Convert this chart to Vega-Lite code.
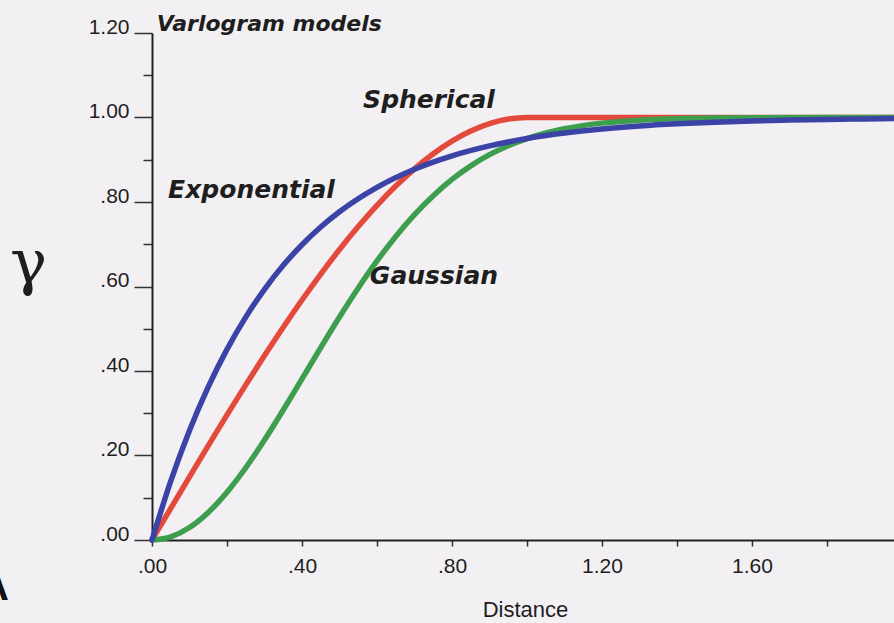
{
  "$schema": "https://vega.github.io/schema/vega-lite/v6.json",
  "autosize": "none",
  "width": 742,
  "height": 507,
  "padding": {"left": 152, "top": 33, "right": 0, "bottom": 83},
  "background": "#f3f0f3",
  "config": {"view": {"stroke": null}},
  "datasets": {
    "curves": [
      {"model": "Spherical", "d": 0, "g": 0},
      {"model": "Spherical", "d": 0.05, "g": 0.0749},
      {"model": "Spherical", "d": 0.1, "g": 0.1495},
      {"model": "Spherical", "d": 0.15, "g": 0.2233},
      {"model": "Spherical", "d": 0.2, "g": 0.296},
      {"model": "Spherical", "d": 0.25, "g": 0.3672},
      {"model": "Spherical", "d": 0.3, "g": 0.4365},
      {"model": "Spherical", "d": 0.35, "g": 0.5036},
      {"model": "Spherical", "d": 0.4, "g": 0.568},
      {"model": "Spherical", "d": 0.45, "g": 0.6294},
      {"model": "Spherical", "d": 0.5, "g": 0.6875},
      {"model": "Spherical", "d": 0.55, "g": 0.7418},
      {"model": "Spherical", "d": 0.6, "g": 0.792},
      {"model": "Spherical", "d": 0.65, "g": 0.8377},
      {"model": "Spherical", "d": 0.7, "g": 0.8785},
      {"model": "Spherical", "d": 0.75, "g": 0.9141},
      {"model": "Spherical", "d": 0.8, "g": 0.944},
      {"model": "Spherical", "d": 0.85, "g": 0.9679},
      {"model": "Spherical", "d": 0.9, "g": 0.9855},
      {"model": "Spherical", "d": 0.95, "g": 0.9963},
      {"model": "Spherical", "d": 1.0, "g": 1.0},
      {"model": "Spherical", "d": 1.2, "g": 1.0},
      {"model": "Spherical", "d": 1.6, "g": 1.0},
      {"model": "Spherical", "d": 1.98, "g": 1.0},
      {"model": "Gaussian", "d": 0, "g": 0},
      {"model": "Gaussian", "d": 0.05, "g": 0.0075},
      {"model": "Gaussian", "d": 0.1, "g": 0.0296},
      {"model": "Gaussian", "d": 0.15, "g": 0.0653},
      {"model": "Gaussian", "d": 0.2, "g": 0.1131},
      {"model": "Gaussian", "d": 0.25, "g": 0.171},
      {"model": "Gaussian", "d": 0.3, "g": 0.2366},
      {"model": "Gaussian", "d": 0.35, "g": 0.3076},
      {"model": "Gaussian", "d": 0.4, "g": 0.3812},
      {"model": "Gaussian", "d": 0.45, "g": 0.4553},
      {"model": "Gaussian", "d": 0.5, "g": 0.5276},
      {"model": "Gaussian", "d": 0.55, "g": 0.5964},
      {"model": "Gaussian", "d": 0.6, "g": 0.6604},
      {"model": "Gaussian", "d": 0.65, "g": 0.7185},
      {"model": "Gaussian", "d": 0.7, "g": 0.7701},
      {"model": "Gaussian", "d": 0.75, "g": 0.815},
      {"model": "Gaussian", "d": 0.8, "g": 0.8534},
      {"model": "Gaussian", "d": 0.85, "g": 0.8855},
      {"model": "Gaussian", "d": 0.9, "g": 0.912},
      {"model": "Gaussian", "d": 0.95, "g": 0.9333},
      {"model": "Gaussian", "d": 1.0, "g": 0.9502},
      {"model": "Gaussian", "d": 1.1, "g": 0.9735},
      {"model": "Gaussian", "d": 1.2, "g": 0.9867},
      {"model": "Gaussian", "d": 1.3, "g": 0.9937},
      {"model": "Gaussian", "d": 1.4, "g": 0.9972},
      {"model": "Gaussian", "d": 1.5, "g": 0.9988},
      {"model": "Gaussian", "d": 1.6, "g": 0.9995},
      {"model": "Gaussian", "d": 1.8, "g": 0.9999},
      {"model": "Gaussian", "d": 1.98, "g": 1.0},
      {"model": "Exponential", "d": 0, "g": 0},
      {"model": "Exponential", "d": 0.05, "g": 0.1393},
      {"model": "Exponential", "d": 0.1, "g": 0.2592},
      {"model": "Exponential", "d": 0.15, "g": 0.3624},
      {"model": "Exponential", "d": 0.2, "g": 0.4512},
      {"model": "Exponential", "d": 0.25, "g": 0.5276},
      {"model": "Exponential", "d": 0.3, "g": 0.5934},
      {"model": "Exponential", "d": 0.35, "g": 0.6501},
      {"model": "Exponential", "d": 0.4, "g": 0.6988},
      {"model": "Exponential", "d": 0.45, "g": 0.7408},
      {"model": "Exponential", "d": 0.5, "g": 0.7769},
      {"model": "Exponential", "d": 0.6, "g": 0.8347},
      {"model": "Exponential", "d": 0.7, "g": 0.8775},
      {"model": "Exponential", "d": 0.8, "g": 0.9093},
      {"model": "Exponential", "d": 0.9, "g": 0.9328},
      {"model": "Exponential", "d": 1.0, "g": 0.9502},
      {"model": "Exponential", "d": 1.1, "g": 0.9631},
      {"model": "Exponential", "d": 1.2, "g": 0.9727},
      {"model": "Exponential", "d": 1.3, "g": 0.9798},
      {"model": "Exponential", "d": 1.4, "g": 0.985},
      {"model": "Exponential", "d": 1.5, "g": 0.9889},
      {"model": "Exponential", "d": 1.6, "g": 0.9918},
      {"model": "Exponential", "d": 1.7, "g": 0.9939},
      {"model": "Exponential", "d": 1.8, "g": 0.9955},
      {"model": "Exponential", "d": 1.9, "g": 0.9967},
      {"model": "Exponential", "d": 1.98, "g": 0.9974}
    ],
    "notes": [
      {"label": "Varlogram models", "d": 0.013, "g": 1.205, "size": 22},
      {"label": "Spherical", "d": 0.563, "g": 1.022, "size": 25},
      {"label": "Exponential", "d": 0.043, "g": 0.81, "size": 25},
      {"label": "Gaussian", "d": 0.581, "g": 0.606, "size": 25}
    ],
    "corner": [
      {"label": "A", "d": -0.42, "g": -0.142}
    ]
  },
  "layer": [
    {
      "data": {"name": "curves"},
      "transform": [{"filter": "datum.model === 'Spherical'"}],
      "mark": {"type": "line", "color": "#e44a3c", "strokeWidth": 5.5, "interpolate": "monotone", "strokeCap": "round"},
      "encoding": {
        "x": {
          "field": "d", "type": "quantitative",
          "scale": {"domain": [0, 1.9787], "nice": false, "zero": false},
          "axis": {
            "title": "Distance",
            "values": [0, 0.1, 0.2, 0.3, 0.4, 0.5, 0.6, 0.7, 0.8, 0.9, 1.0, 1.1, 1.2, 1.3, 1.4, 1.5, 1.6, 1.7, 1.8, 1.9],
            "labelExpr": "abs(datum.value*2.5 - round(datum.value*2.5)) < 0.001 ? (datum.value < 1 ? replace(format(datum.value, '.2f'), '0.', '.') : format(datum.value, '.2f')) : ''",
            "grid": false,
            "domainColor": "#222",
            "domainWidth": 2,
            "tickColor": "#333",
            "tickWidth": 1.5,
            "tickSize": 6,
            "labelFont": "Liberation Sans",
            "labelFontSize": 21,
            "labelColor": "#1e1e1e",
            "labelPadding": 9,
            "labelFlush": false,
            "labelOverlap": false,
            "titleFont": "Liberation Sans",
            "titleFontSize": 22,
            "titleFontWeight": "normal",
            "titleColor": "#1e1e1e",
            "titleX": 373,
            "titleY": 76,
            "titleBaseline": "alphabetic",
            "titleAnchor": "middle",
            "titleAlign": "center"
          }
        },
        "y": {
          "field": "g", "type": "quantitative",
          "scale": {"domain": [0, 1.2], "nice": false, "zero": false},
          "axis": {
            "title": "γ",
            "values": [0, 0.05, 0.1, 0.15, 0.2, 0.25, 0.3, 0.35, 0.4, 0.45, 0.5, 0.55, 0.6, 0.65, 0.7, 0.75, 0.8, 0.85, 0.9, 0.95, 1.0, 1.05, 1.1, 1.15, 1.2],
            "labelExpr": "abs(datum.value*5 - round(datum.value*5)) < 0.001 ? (datum.value < 1 ? replace(format(datum.value, '.2f'), '0.', '.') : format(datum.value, '.2f')) : ''",
            "grid": false,
            "domainColor": "#222",
            "domainWidth": 2,
            "tickColor": "#333",
            "tickWidth": 1.5,
            "tickSize": {"condition": {"test": "abs(datum.value*5 - round(datum.value*5)) < 0.001", "value": 18}, "value": 9},
            "labelFont": "Liberation Sans",
            "labelFontSize": 21,
            "labelColor": "#1e1e1e",
            "labelPadding": 5,
            "labelBaseline": "alphabetic",
            "labelFlush": false,
            "labelOverlap": false,
            "titleFont": "DejaVu Serif",
            "titleFontSize": 62,
            "titleFontWeight": "normal",
            "titleColor": "#1e1e1e",
            "titleAngle": 0,
            "titleX": -124,
            "titleY": 249,
            "titleAlign": "center",
            "titleBaseline": "alphabetic"
          }
        }
      }
    },
    {
      "data": {"name": "curves"},
      "transform": [{"filter": "datum.model === 'Gaussian'"}],
      "mark": {"type": "line", "color": "#3d9e4e", "strokeWidth": 5.5, "interpolate": "monotone", "strokeCap": "round"},
      "encoding": {
        "x": {"field": "d", "type": "quantitative"},
        "y": {"field": "g", "type": "quantitative"}
      }
    },
    {
      "data": {"name": "curves"},
      "transform": [{"filter": "datum.model === 'Exponential'"}],
      "mark": {"type": "line", "color": "#3c43a6", "strokeWidth": 5.5, "interpolate": "monotone", "strokeCap": "round"},
      "encoding": {
        "x": {"field": "d", "type": "quantitative"},
        "y": {"field": "g", "type": "quantitative"}
      }
    },
    {
      "data": {"name": "notes"},
      "mark": {"type": "text", "font": "DejaVu Sans", "fontWeight": "bold", "fontStyle": "italic", "align": "left", "baseline": "alphabetic", "color": "#1e1e1e"},
      "encoding": {
        "x": {"field": "d", "type": "quantitative"},
        "y": {"field": "g", "type": "quantitative"},
        "text": {"field": "label"},
        "size": {"field": "size", "type": "quantitative", "scale": null}
      }
    },
    {
      "data": {"name": "corner"},
      "mark": {"type": "text", "font": "Liberation Sans", "fontWeight": "bold", "fontSize": 40, "align": "center", "baseline": "alphabetic", "color": "#111"},
      "encoding": {
        "x": {"field": "d", "type": "quantitative"},
        "y": {"field": "g", "type": "quantitative"},
        "text": {"field": "label"}
      }
    }
  ]
}
